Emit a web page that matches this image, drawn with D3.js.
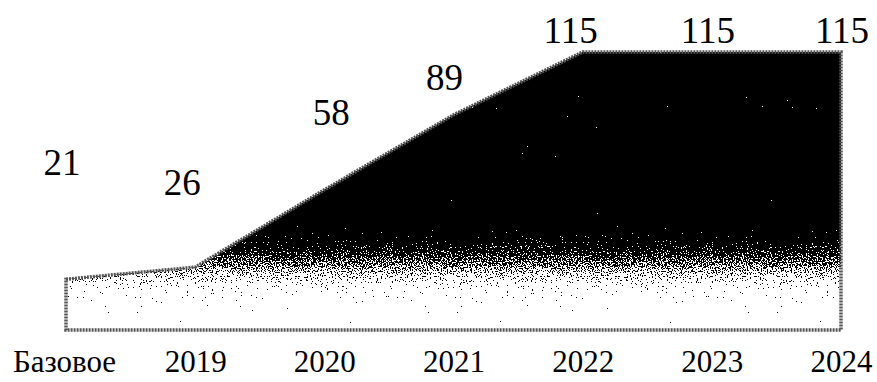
<!DOCTYPE html>
<html>
<head>
<meta charset="utf-8">
<script src="https://cdn.jsdelivr.net/npm/d3@7"></script>
<style>
  html, body { margin: 0; padding: 0; background: #fff; }
  svg { display: block; }
  text { font-family: 'Liberation Serif', 'Times New Roman', serif; fill: #000; }
</style>
</head>
<body>
<div id="container"><svg></svg></div>
<script>
// data
let categories = ['Базовое', '2019', '2020', '2021', '2022', '2023', '2024'];
let values = [21, 26, 58, 89, 115, 115, 115];

let width = 877;
let height = 382;

// hand placed value labels (dx, dy from the point)
let labelNudge = [[-4, -104], [-13, -72], [7, -65], [-9, -25], [-12, -9], [-4, -9], [1, -9]];

function draw_main() {
    let svg = d3.select('#container').select('svg')
        .attr('width', width)
        .attr('height', height);

    let x = d3.scalePoint()
        .domain(categories)
        .range([66, 841]);

    let y = d3.scaleLinear()
        .domain([0, 115])
        .range([330, 52]);

    let defs = svg.append('defs');

    // gradient black at the top, white at the bottom
    let grad = defs.append('linearGradient')
        .attr('id', 'fade')
        .attr('gradientUnits', 'userSpaceOnUse')
        .attr('x1', 0).attr('x2', 0)
        .attr('y1', y(115)).attr('y2', y(0));
    [[0, '#000'], [0.6, '#000'], [0.66, '#1c1c1c'], [0.72, '#4c4c4c'],
     [0.78, '#909090'], [0.84, '#c8c8c8'], [0.9, '#e8e8e8'], [0.96, '#f6f6f6'], [1, '#fff']].forEach(s => {
        grad.append('stop').attr('offset', s[0]).attr('stop-color', s[1]);
    });

    // scanned look: add noise and threshold to black / white
    let f = defs.append('filter')
        .attr('id', 'dither')
        .attr('x', 0).attr('y', 0).attr('width', 1).attr('height', 1)
        .attr('color-interpolation-filters', 'sRGB');
    f.append('feTurbulence')
        .attr('type', 'fractalNoise')
        .attr('baseFrequency', 0.8)
        .attr('numOctaves', 2)
        .attr('seed', 3)
        .attr('result', 'noise');
    f.append('feColorMatrix')
        .attr('in', 'noise')
        .attr('type', 'matrix')
        .attr('values', '1 0 0 0 0  1 0 0 0 0  1 0 0 0 0  0 0 0 0 1')
        .attr('result', 'grey');
    f.append('feComposite')
        .attr('in', 'SourceGraphic')
        .attr('in2', 'grey')
        .attr('operator', 'arithmetic')
        .attr('k1', 0).attr('k2', 1).attr('k3', 1.4).attr('k4', -0.7)
        .attr('result', 'mix');
    let ct = f.append('feComponentTransfer')
        .attr('in', 'mix')
        .attr('result', 'bw');
    ['feFuncR', 'feFuncG', 'feFuncB'].forEach(fn => {
        ct.append(fn).attr('type', 'discrete').attr('tableValues', '0 1');
    });
    ct.append('feFuncA').attr('type', 'identity');
    f.append('feComposite')
        .attr('in', 'bw')
        .attr('in2', 'SourceGraphic')
        .attr('operator', 'in');

    let data = categories.map((c, i) => ({cat: c, val: values[i]}));

    let area = d3.area()
        .x(d => x(d.cat))
        .y0(y(0))
        .y1(d => y(d.val));

    svg.append('path')
        .datum(data)
        .attr('d', area)
        .attr('fill', 'url(#fade)')
        .attr('filter', 'url(#dither)');

    svg.append('path')
        .datum(data)
        .attr('d', area)
        .attr('fill', 'none')
        .attr('stroke', '#555')
        .attr('stroke-width', 3.5)
        .attr('stroke-dasharray', '2,1');

    // value labels
    svg.append('g')
        .selectAll('text')
        .data(data)
        .enter()
        .append('text')
        .attr('x', (d, i) => x(d.cat) + labelNudge[i][0])
        .attr('y', (d, i) => y(d.val) + labelNudge[i][1])
        .attr('text-anchor', 'middle')
        .style('font-size', '37px')
        .text(d => d.val);

    // x axis, no line, no ticks
    let axis_x = d3.axisBottom(x).tickSize(0).tickPadding(0);
    let gx = svg.append('g')
        .attr('transform', `translate(0, 372)`)
        .call(axis_x);
    gx.select('.domain').remove();
    gx.attr('font-family', null).attr('font-size', null);
    gx.selectAll('text')
        .attr('dy', 0)
        .attr('fill', null)
        .style('font-size', '31px');
    gx.selectAll('.tick text').filter((d, i) => i === 0).attr('dx', -2);
}

draw_main();
</script>
</body>
</html>
